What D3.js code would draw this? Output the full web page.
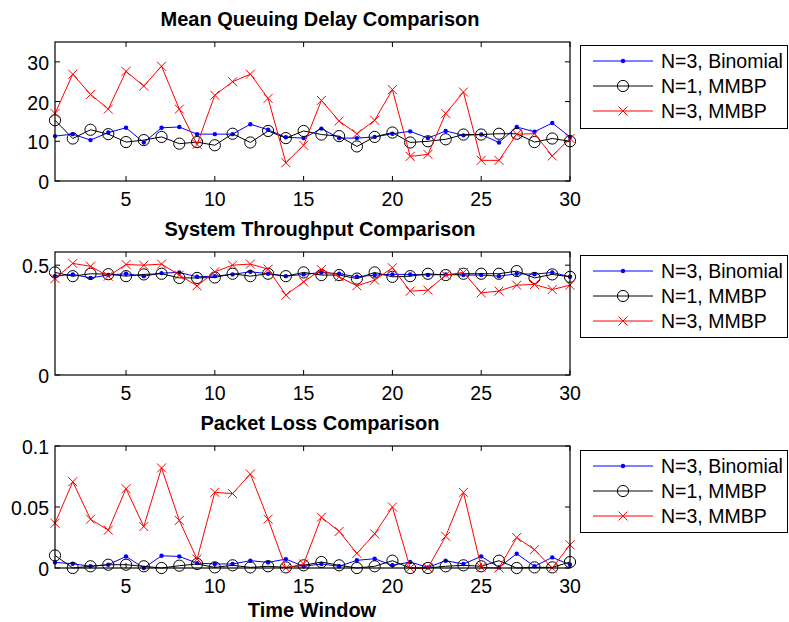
<!DOCTYPE html>
<html lang="en">
<head>
<meta charset="UTF-8">
<title>Comparison</title>
<script src="https://d3js.org/d3.v7.min.js"></script>
<style>
  body { margin: 0; background: #fff; }
  text { font-family: "Liberation Sans", Arial, Helvetica, sans-serif; }
</style>
</head>
<body>
<svg id="chart" width="789" height="622"></svg>
<script>
const windows = d3.range(1, 31);
const seriesNames = ["N=3, Binomial", "N=1, MMBP", "N=3, MMBP"];

const delayBinomial = [11.3, 11.8, 10.3, 12.2, 13.4, 9.7, 13.4, 13.6, 11.8, 11.8, 11.8, 14.3, 12.9, 11.0, 10.8,
  13.2, 10.8, 10.8, 11.1, 11.9, 12.5, 10.8, 12.6, 11.5, 11.7, 9.7, 13.6, 12.4, 14.6, 11.1];
const delayMMBP1 = [15.3, 10.7, 12.9, 11.8, 9.8, 10.3, 11.1, 9.4, 9.8, 9.0, 11.9, 9.7, 12.6, 10.8, 12.6,
  11.7, 11.3, 8.7, 11.1, 12.2, 9.7, 10.0, 10.5, 11.7, 11.7, 11.9, 11.9, 9.8, 10.7, 10.0];
const delayMMBP3 = [17.0, 26.9, 21.8, 18.1, 27.6, 23.9, 28.9, 18.1, 9.2, 21.6, 25.0, 26.9, 20.8, 4.6, 9.0,
  20.3, 15.1, 11.9, 15.3, 23.0, 6.2, 6.7, 17.0, 22.4, 5.2, 5.2, 11.8, 11.9, 6.3, 10.7];

const thrBinomial = [0.450, 0.458, 0.442, 0.455, 0.461, 0.450, 0.464, 0.467, 0.447, 0.450, 0.458, 0.470, 0.461, 0.450, 0.458,
  0.467, 0.461, 0.447, 0.455, 0.458, 0.458, 0.455, 0.458, 0.455, 0.455, 0.450, 0.461, 0.459, 0.467, 0.447];
const thrMMBP1 = [0.467, 0.450, 0.461, 0.459, 0.450, 0.458, 0.461, 0.442, 0.442, 0.444, 0.461, 0.450, 0.461, 0.450, 0.467,
  0.455, 0.455, 0.439, 0.467, 0.447, 0.450, 0.461, 0.455, 0.461, 0.461, 0.461, 0.473, 0.442, 0.458, 0.447];
const thrMMBP3 = [0.439, 0.508, 0.495, 0.450, 0.503, 0.500, 0.505, 0.455, 0.406, 0.470, 0.500, 0.505, 0.482, 0.364, 0.424,
  0.480, 0.447, 0.406, 0.432, 0.488, 0.382, 0.386, 0.455, 0.467, 0.374, 0.382, 0.409, 0.412, 0.389, 0.409];

const lossBinomial = [0.0046, 0.0035, 0.0014, 0.0027, 0.0095, 0.0, 0.0100, 0.0095, 0.0040, 0.0033, 0.0033, 0.0060, 0.0046, 0.0073, 0.0014,
  0.0033, 0.0014, 0.0063, 0.0076, 0.0022, 0.0049, 0.0005, 0.0060, 0.0033, 0.0095, 0.0005, 0.0117, 0.0014, 0.0087, 0.0027];
const lossMMBP1 = [0.0103, 0.0, 0.0014, 0.0027, 0.0027, 0.0014, 0.0, 0.0019, 0.0033, 0.0005, 0.0022, 0.0005, 0.0014, 0.0005, 0.0022,
  0.0049, 0.0022, 0.0, 0.0014, 0.0060, 0.0, 0.0, 0.0014, 0.0022, 0.0014, 0.0060, 0.0, 0.0005, 0.0005, 0.0049];
const lossMMBP3 = [0.0367, 0.0707, 0.0400, 0.0310, 0.0650, 0.0340, 0.0820, 0.0390, 0.0073, 0.0620, 0.0610, 0.0770, 0.0400, 0.0, 0.0033,
  0.0416, 0.0300, 0.0120, 0.0280, 0.0500, 0.0, 0.0, 0.0260, 0.0620, 0.0005, 0.0, 0.0250, 0.0150, 0.0, 0.0190];

const xTicks = [5, 10, 15, 20, 25, 30];

const panels = [
  { title: "Mean Queuing Delay Comparison", top: 42, bottom: 181, yMax: 35, yTicks: [0, 10, 20, 30],
    data: [delayBinomial, delayMMBP1, delayMMBP3], legendTop: 45, legendBottom: 128 },
  { title: "System Throughput Comparison", top: 252, bottom: 375, yMax: 0.56, yTicks: [0, 0.5],
    data: [thrBinomial, thrMMBP1, thrMMBP3], legendTop: 255, legendBottom: 337 },
  { title: "Packet Loss Comparison", top: 446, bottom: 568, yMax: 0.1, yTicks: [0, 0.05, 0.1],
    data: [lossBinomial, lossMMBP1, lossMMBP3], legendTop: 450, legendBottom: 532 }
];

const colors = ["#0000ff", "#000000", "#ff0000"];
const left = 55, right = 570;
const fs = 19.5, titleFs = 20;
const svg = d3.select("#chart");

const x = d3.scaleLinear().domain([1, 30]).range([left, right]);

function drawMarker(g, type, cx, cy, color) {
  if (type === 0) {
    g.append("circle").attr("cx", cx).attr("cy", cy).attr("r", 2.2).attr("fill", color);
  } else if (type === 1) {
    g.append("circle").attr("cx", cx).attr("cy", cy).attr("r", 5.6)
      .attr("fill", "none").attr("stroke", color).attr("stroke-width", 1);
  } else {
    const s = 4.5;
    g.append("path").attr("d", `M${cx - s},${cy - s}L${cx + s},${cy + s}M${cx - s},${cy + s}L${cx + s},${cy - s}`)
      .attr("stroke", color).attr("stroke-width", 1).attr("fill", "none");
  }
}

panels.forEach(p => {
  const y = d3.scaleLinear().domain([0, p.yMax]).range([p.bottom, p.top]);
  const g = svg.append("g");

  // ticks point inward on all four sides
  xTicks.forEach(t => {
    g.append("line").attr("x1", x(t)).attr("x2", x(t)).attr("y1", p.bottom).attr("y2", p.bottom - 5).attr("stroke", "#000");
    g.append("line").attr("x1", x(t)).attr("x2", x(t)).attr("y1", p.top).attr("y2", p.top + 5).attr("stroke", "#000");
    g.append("text").attr("x", x(t)).attr("y", p.bottom + 25).attr("text-anchor", "middle")
      .attr("font-size", fs).text(t);
  });
  p.yTicks.forEach(t => {
    g.append("line").attr("x1", left).attr("x2", left + 5).attr("y1", y(t)).attr("y2", y(t)).attr("stroke", "#000");
    g.append("line").attr("x1", right).attr("x2", right - 5).attr("y1", y(t)).attr("y2", y(t)).attr("stroke", "#000");
    g.append("text").attr("x", left - 6).attr("y", y(t) + 8).attr("text-anchor", "end")
      .attr("font-size", fs).text(t);
  });

  const line = d3.line().x((d, i) => x(windows[i])).y(d => y(d));
  p.data.forEach((vals, si) => {
    const sg = g.append("g");
    sg.append("path").datum(vals).attr("d", line).attr("fill", "none")
      .attr("stroke", colors[si]).attr("stroke-width", 1);
    vals.forEach((v, i) => drawMarker(sg, si, x(windows[i]), y(v), colors[si]));
  });

  g.append("rect").attr("x", left).attr("y", p.top).attr("width", right - left).attr("height", p.bottom - p.top)
    .attr("fill", "none").attr("stroke", "#000").attr("stroke-width", 1.2);

  g.append("text").attr("x", 320).attr("y", p.top - 16).attr("text-anchor", "middle")
    .attr("font-size", titleFs).attr("font-weight", "bold").text(p.title);

  // legend
  const lg = svg.append("g");
  lg.append("rect").attr("x", 580.5).attr("y", p.legendTop + 0.5).attr("width", 207)
    .attr("height", p.legendBottom - p.legendTop).attr("fill", "#fff").attr("stroke", "#000").attr("stroke-width", 1);
  seriesNames.forEach((name, si) => {
    const ly = p.legendTop + 16 + si * 25;
    lg.append("line").attr("x1", 593).attr("x2", 653).attr("y1", ly).attr("y2", ly)
      .attr("stroke", colors[si]).attr("stroke-width", 1);
    drawMarker(lg, si, 623, ly, colors[si]);
    lg.append("text").attr("x", 661).attr("y", ly + 7).attr("font-size", fs).text(name);
  });
});

svg.append("text").attr("x", 312).attr("y", 617).attr("text-anchor", "middle")
  .attr("font-size", titleFs).attr("font-weight", "bold").text("Time Window");
</script>
</body>
</html>
